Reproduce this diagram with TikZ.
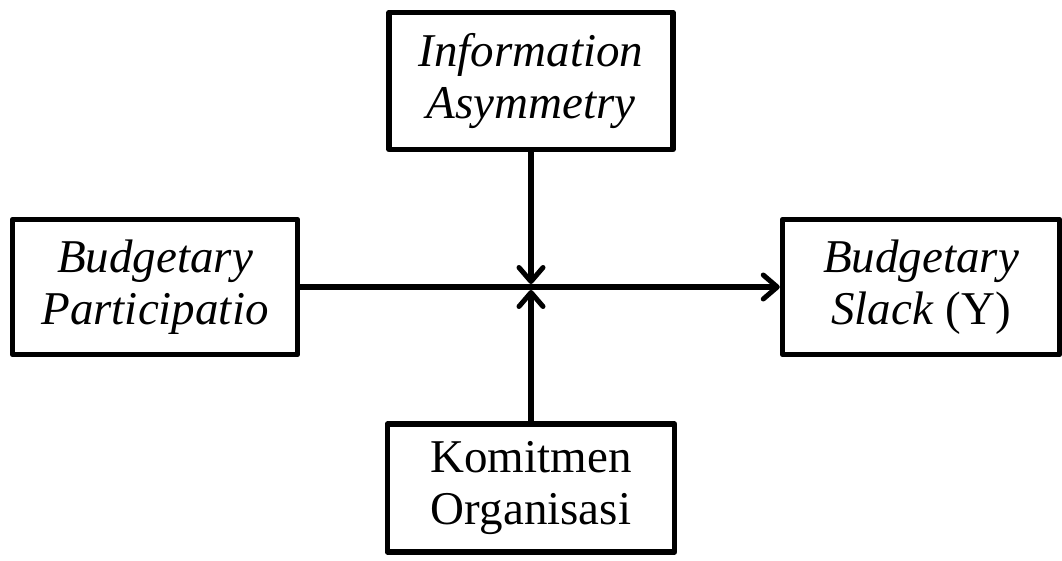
\documentclass[tikz,border=0pt]{standalone}
\usepackage{fontspec}
\setmainfont{Liberation Serif}
\usetikzlibrary{arrows.meta}
\begin{document}
\begin{tikzpicture}[x=1pt,y=-1pt,
  box/.style={draw, line width=5.5pt, line join=round, inner sep=0pt,
    align=center, font=\fontsize{47}{52}\selectfont},
  link/.style={line width=5.5pt,
    -{Straight Barb[length=14pt,width=24pt,line width=5pt,round]}}]
\useasboundingbox (0,0) rectangle (1062,560);

% the four variables
\node[box, minimum width=284pt, minimum height=137pt] (ia) at (531,81)
  {\textit{Information}\\\textit{Asymmetry}};
\node[box, minimum width=285pt, minimum height=135pt] (bp) at (155,287)
  {\textit{Budgetary}\\\textit{Participatio}};
\node[box, minimum width=277pt, minimum height=135pt] (bs) at (921,287)
  {\textit{Budgetary}\\\textit{Slack} (Y)};
\node[box, minimum width=287pt, minimum height=128pt] (ko) at (531,488)
  {Komitmen\\Organisasi};

% meeting point of the moderating paths
\coordinate (down) at (531,284);
\coordinate (up) at (531,290);

\draw[link] (bp.east) -- (bs.west);
\draw[link] (ia.south) -- (down);
\draw[link] (ko.north) -- (up);
\end{tikzpicture}
\end{document}
